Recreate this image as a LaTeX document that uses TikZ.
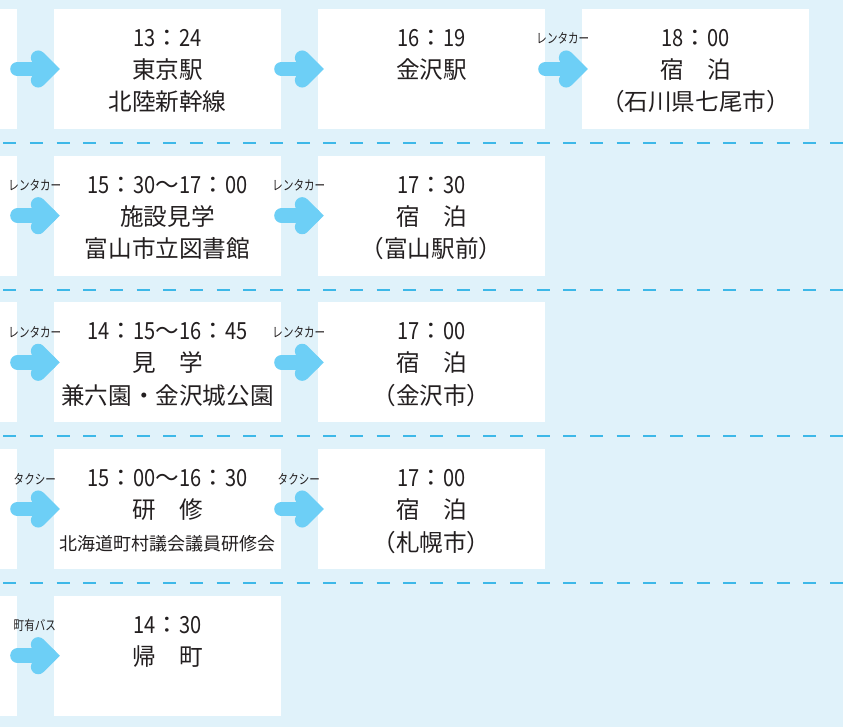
\documentclass[tikz,border=0pt]{standalone}
\usepackage{fontspec}
\setmainfont{Noto Sans CJK JP}
\newfontfamily\nf[FakeStretch=0.85]{Noto Sans CJK JP}
\newfontfamily\lf[FakeStretch=0.78]{Noto Sans CJK JP}
\definecolor{bgc}{HTML}{E0F2FA}
\definecolor{arrc}{HTML}{6DCFF6}
\definecolor{dashc}{HTML}{3DB8E8}
\definecolor{txt}{HTML}{231F20}
\tikzset{
  box/.style={fill=white, draw=none, minimum width=227pt, minimum height=120pt, inner sep=0pt},
  tl/.style={anchor=base, inner sep=0pt, text=txt, font=\fontsize{23.6}{28}\selectfont},
  tls/.style={anchor=base, inner sep=0pt, text=txt, font=\fontsize{18}{22}\selectfont},
  lab/.style={anchor=base, inner sep=0pt, text=txt, font=\lf\fontsize{13.5}{15}\selectfont},
  arrline/.style={draw=arrc, line width=14.7pt, line cap=round},
  sepline/.style={draw=dashc, line width=1.8pt, dash pattern=on 13pt off 13.67pt},
}
\newcommand\goarrow[2]{%
  \draw[arrline] ([xshift=0.35pt]#1.east) -- ([xshift=-4.4pt]#2.west);
  \draw[arrline, line join=miter] ([xshift=-15.6pt,yshift=11.2pt]#2.west) -- ([xshift=-4.4pt]#2.west) -- ([xshift=-15.6pt,yshift=-11.2pt]#2.west);
}
\begin{document}
\begin{tikzpicture}[x=1pt,y=-1pt]
\useasboundingbox (0,0) rectangle (843,727);
\clip (0,0) rectangle (843,727);
\fill[bgc] (0,0) rectangle (843,727);
% separators
\foreach \yy/\nm in {143/s1,290/s2,436/s3,583/s4}{
  \coordinate (\nm a) at (3.3,\yy);
  \coordinate (\nm b) at (843,\yy);
  \draw[sepline] (\nm a) -- (\nm b);
}
% row 1
\node[box] (p1) at (-96.5,69) {};
\node[box] (b11) at (167.5,69) {};
\node[box] (b12) at (431.5,69) {};
\node[box] (b13) at (695.5,69) {};
\goarrow{p1}{b11}
\goarrow{b11}{b12}
\goarrow{b12}{b13}
\node[lab] (l13) at ([xshift=-19pt,yshift=25pt]b13.west) {レンタカー};
\node[tl] (t11a) at ([yshift=22.5pt]b11.center) {{\nf 13}：{\nf 24}};
\node[tl] (t11b) at ([yshift=-9.5pt]b11.center) {東京駅};
\node[tl] (t11c) at ([yshift=-42pt]b11.center) {北陸新幹線};
\node[tl] (t12a) at ([yshift=22.5pt]b12.center) {{\nf 16}：{\nf 19}};
\node[tl] (t12b) at ([yshift=-9.5pt]b12.center) {金沢駅};
\node[tl] (t13a) at ([yshift=22.5pt]b13.center) {{\nf 18}：{\nf 00}};
\node[tl] (t13b) at ([yshift=-9.5pt]b13.center) {宿　泊};
\node[tl] (t13c) at ([yshift=-42pt]b13.center) {（石川県七尾市）};
% row 2
\node[box] (p2) at (-96.5,215.7) {};
\node[box] (b21) at (167.5,215.7) {};
\node[box] (b22) at (431.5,215.7) {};
\goarrow{p2}{b21}
\goarrow{b21}{b22}
\node[lab] (l21) at ([xshift=-19pt,yshift=25pt]b21.west) {レンタカー};
\node[lab] (l22) at ([xshift=-19pt,yshift=25pt]b22.west) {レンタカー};
\node[tl] (t21a) at ([yshift=22.5pt]b21.center) {{\nf 15}：{\nf 30}～{\nf 17}：{\nf 00}};
\node[tl] (t21b) at ([yshift=-9.5pt]b21.center) {施設見学};
\node[tl] (t21c) at ([yshift=-42pt]b21.center) {富山市立図書館};
\node[tl] (t22a) at ([yshift=22.5pt]b22.center) {{\nf 17}：{\nf 30}};
\node[tl] (t22b) at ([yshift=-9.5pt]b22.center) {宿　泊};
\node[tl] (t22c) at ([yshift=-42pt]b22.center) {（富山駅前）};
% row 3
\node[box] (p3) at (-96.5,362.3) {};
\node[box] (b31) at (167.5,362.3) {};
\node[box] (b32) at (431.5,362.3) {};
\goarrow{p3}{b31}
\goarrow{b31}{b32}
\node[lab] (l31) at ([xshift=-19pt,yshift=25pt]b31.west) {レンタカー};
\node[lab] (l32) at ([xshift=-19pt,yshift=25pt]b32.west) {レンタカー};
\node[tl] (t31a) at ([yshift=22.5pt]b31.center) {{\nf 14}：{\nf 15}～{\nf 16}：{\nf 45}};
\node[tl] (t31b) at ([yshift=-9.5pt]b31.center) {見　学};
\node[tl] (t31c) at ([yshift=-42pt]b31.center) {兼六園・金沢城公園};
\node[tl] (t32a) at ([yshift=22.5pt]b32.center) {{\nf 17}：{\nf 00}};
\node[tl] (t32b) at ([yshift=-9.5pt]b32.center) {宿　泊};
\node[tl] (t32c) at ([yshift=-42pt]b32.center) {（金沢市）};
% row 4
\node[box] (p4) at (-96.5,509) {};
\node[box] (b41) at (167.5,509) {};
\node[box] (b42) at (431.5,509) {};
\goarrow{p4}{b41}
\goarrow{b41}{b42}
\node[lab] (l41) at ([xshift=-19pt,yshift=25pt]b41.west) {タクシー};
\node[lab] (l42) at ([xshift=-19pt,yshift=25pt]b42.west) {タクシー};
\node[tl] (t41a) at ([yshift=22.5pt]b41.center) {{\nf 15}：{\nf 00}～{\nf 16}：{\nf 30}};
\node[tl] (t41b) at ([yshift=-9.5pt]b41.center) {研　修};
\node[tls] (t41c) at ([yshift=-41pt]b41.center) {北海道町村議会議員研修会};
\node[tl] (t42a) at ([yshift=22.5pt]b42.center) {{\nf 17}：{\nf 00}};
\node[tl] (t42b) at ([yshift=-9.5pt]b42.center) {宿　泊};
\node[tl] (t42c) at ([yshift=-42pt]b42.center) {（札幌市）};
% row 5
\node[box] (p5) at (-96.5,655.7) {};
\node[box] (b51) at (167.5,655.7) {};
\goarrow{p5}{b51}
\node[lab] (l51) at ([xshift=-19pt,yshift=25pt]b51.west) {町有バス};
\node[tl] (t51a) at ([yshift=22.5pt]b51.center) {{\nf 14}：{\nf 30}};
\node[tl] (t51b) at ([yshift=-9.5pt]b51.center) {帰　町};
\end{tikzpicture}
\end{document}
